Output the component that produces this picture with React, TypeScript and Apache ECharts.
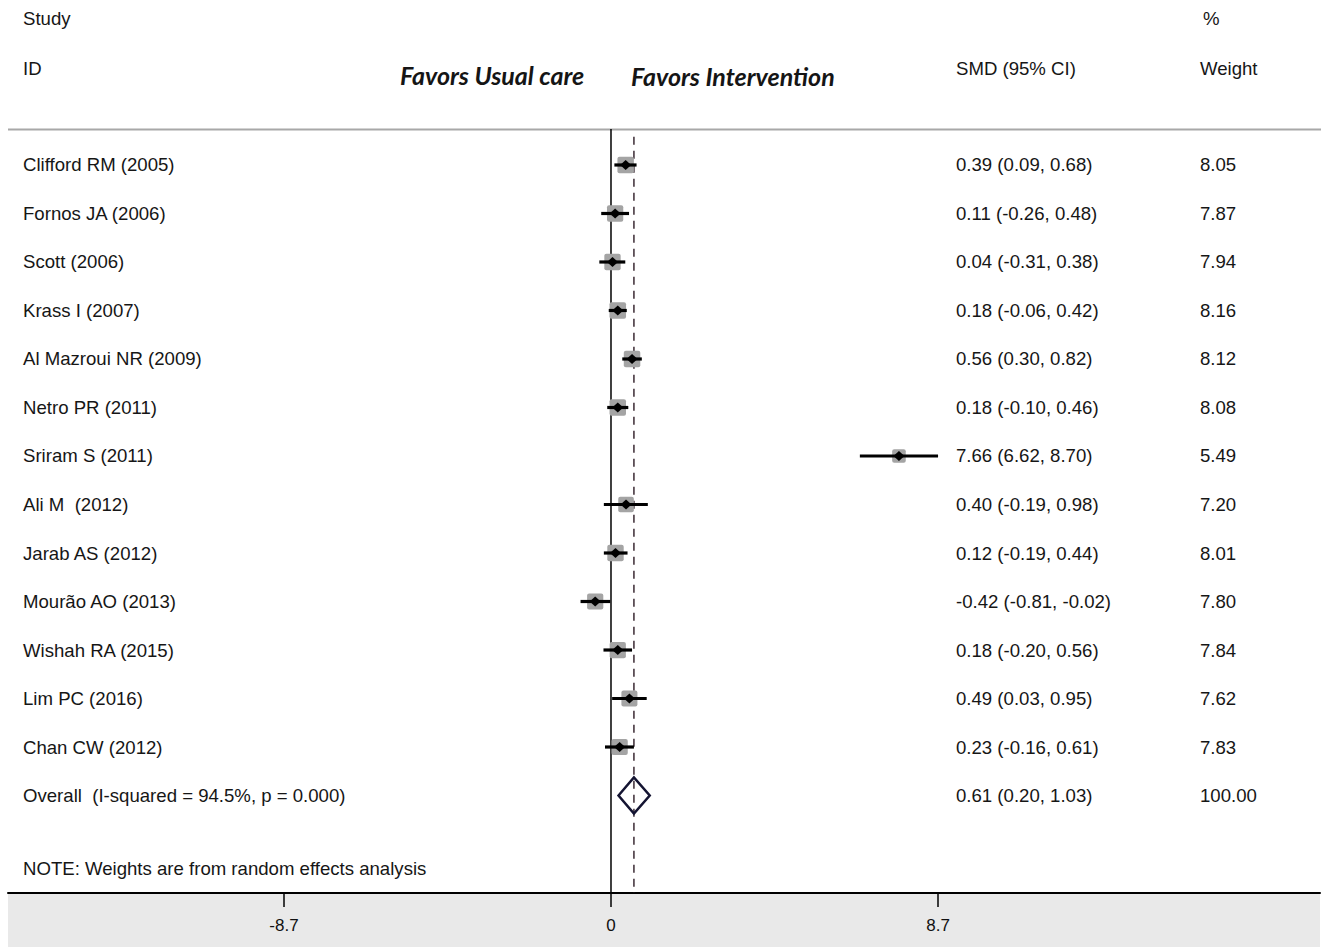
import React, { useEffect, useRef } from "react";
import * as echarts from "echarts";

const studies = [
  "Clifford RM (2005)",
  "Fornos JA (2006)",
  "Scott (2006)",
  "Krass I (2007)",
  "Al Mazroui NR (2009)",
  "Netro PR (2011)",
  "Sriram S (2011)",
  "Ali M  (2012)",
  "Jarab AS (2012)",
  "Mourão AO (2013)",
  "Wishah RA (2015)",
  "Lim PC (2016)",
  "Chan CW (2012)",
];
const estimates = [0.39, 0.11, 0.04, 0.18, 0.56, 0.18, 7.66, 0.4, 0.12, -0.42, 0.18, 0.49, 0.23];
const lowers = [0.09, -0.26, -0.31, -0.06, 0.3, -0.1, 6.62, -0.19, -0.19, -0.81, -0.2, 0.03, -0.16];
const uppers = [0.68, 0.48, 0.38, 0.42, 0.82, 0.46, 8.7, 0.98, 0.44, -0.02, 0.56, 0.95, 0.61];
const weights = [8.05, 7.87, 7.94, 8.16, 8.12, 8.08, 5.49, 7.2, 8.01, 7.8, 7.84, 7.62, 7.83];

const overallLabel = "Overall  (I-squared = 94.5%, p = 0.000)";
const overallEstimate = 0.61;
const overallLower = 0.2;
const overallUpper = 1.03;
const overallWeight = 100.0;

const tickValues = [-8.7, 0, 8.7];
const tickLabels = ["-8.7", "0", "8.7"];

const FONT = "'Liberation Sans', Arial, sans-serif";
const TEXT_COLOR = "#161616";
const TEXT_SIZE = 18.6;

function fmt(v: number) {
  return v.toFixed(2);
}

export default function App() {
  const ref = useRef<HTMLDivElement>(null);

  useEffect(() => {
    if (!ref.current) return;
    const chart = echarts.init(ref.current, null, { renderer: "svg" });

    const rows: any[] = studies.map((s, i) => [
      i,
      estimates[i],
      lowers[i],
      uppers[i],
      weights[i],
      s,
      `${fmt(estimates[i])} (${fmt(lowers[i])}, ${fmt(uppers[i])})`,
      fmt(weights[i]),
      0,
    ]);
    rows.push([
      studies.length,
      overallEstimate,
      overallLower,
      overallUpper,
      overallWeight,
      overallLabel,
      `${fmt(overallEstimate)} (${fmt(overallLower)}, ${fmt(overallUpper)})`,
      fmt(overallWeight),
      1,
    ]);

    const textStyle = (text: string, x: number, y: number) => ({
      type: "text",
      style: {
        text,
        x,
        y,
        fill: TEXT_COLOR,
        font: `${TEXT_SIZE}px ${FONT}`,
        verticalAlign: "middle",
        align: "left",
      },
    });

    const renderItem = (params: any, api: any) => {
      const i = api.value(0);
      const est = api.value(1);
      const lo = api.value(2);
      const hi = api.value(3);
      const w = api.value(4);
      const idx = params.dataIndex;
      const row = rows[idx];
      const isOverall = row[8] === 1;
      const [xe, y] = api.coord([est, i]);
      const xl = api.coord([lo, i])[0];
      const xh = api.coord([hi, i])[0];
      const children: any[] = [];
      if (!isOverall) {
        const side = 5.8 * Math.sqrt(w);
        children.push({
          type: "rect",
          shape: { x: xe - side / 2, y: y - side / 2, width: side, height: side, r: 2 },
          style: { fill: "#a4a4a4" },
        });
        children.push({
          type: "line",
          shape: { x1: xl, y1: y, x2: xh, y2: y },
          style: { stroke: "#000", lineWidth: 3.2 },
        });
        children.push({
          type: "polygon",
          shape: {
            points: [
              [xe - 5.5, y],
              [xe, y - 5],
              [xe + 5.5, y],
              [xe, y + 5],
            ],
          },
          style: { fill: "#000" },
        });
      } else {
        children.push({
          type: "polygon",
          shape: {
            points: [
              [xl, y],
              [xe, y - 18],
              [xh, y],
              [xe, y + 18],
            ],
          },
          style: { fill: "none", stroke: "#141432", lineWidth: 2.5 },
        });
      }
      children.push(textStyle(row[5], 23, y));
      children.push(textStyle(row[6], 956, y));
      children.push(textStyle(row[7], 1200, y));
      return { type: "group", children };
    };

    const header = (text: string, x: number, y: number) => ({
      type: "text",
      x,
      y,
      style: {
        text,
        fill: TEXT_COLOR,
        font: `${TEXT_SIZE}px ${FONT}`,
        verticalAlign: "middle",
      },
    });
    const favor = (text: string, x: number, y: number) => ({
      type: "text",
      x,
      y,
      style: {
        text,
        fill: "#151515",
        font: `italic bold 25px Lato, 'Open Sans', sans-serif`,
        verticalAlign: "middle",
      },
    });

    chart.setOption({
      animation: false,
      backgroundColor: "#ffffff",
      grid: { left: 8, right: 1, top: 129, bottom: 54, containLabel: false },
      xAxis: {
        type: "value",
        min: -16.04,
        max: 18.86,
        splitLine: { show: false },
        axisLine: { show: true, onZero: false, lineStyle: { color: "#000", width: 2 } },
        axisTick: {
          show: true,
          customValues: tickValues,
          length: 14,
          lineStyle: { color: "#000", width: 1.5 },
        },
        axisLabel: {
          show: true,
          customValues: tickValues,
          formatter: (v: number) => tickLabels[tickValues.indexOf(v)] ?? String(v),
          fontFamily: FONT,
          fontSize: 17,
          color: "#111",
          margin: 24,
        },
      },
      yAxis: {
        type: "value",
        min: -0.742,
        max: 15.01,
        inverse: true,
        show: false,
      },
      graphic: [
        {
          type: "rect",
          z: -10,
          shape: { x: 8, y: 893, width: 1312, height: 54 },
          style: { fill: "#e9e9e9" },
        },
        {
          type: "line",
          shape: { x1: 8, y1: 129.5, x2: 1321, y2: 129.5 },
          style: { stroke: "#a8a8a8", lineWidth: 2 },
        },
        header("Study", 23, 18),
        header("ID", 23, 68),
        header("SMD (95% CI)", 956, 68),
        header("%", 1203, 18),
        header("Weight", 1200, 68),
        favor("Favors Usual care", 400, 75),
        favor("Favors Intervention", 631, 76),
        header("NOTE: Weights are from random effects analysis", 23, 868),
      ],
      series: [
        {
          type: "line",
          data: [
            [0, -0.742],
            [0, 15.01],
          ],
          showSymbol: false,
          lineStyle: { color: "#000", width: 1.5 },
          silent: true,
          z: 1,
        },
        {
          type: "line",
          data: [
            [overallEstimate, -0.58],
            [overallEstimate, 15.01],
          ],
          showSymbol: false,
          lineStyle: { color: "#3a2a33", width: 1.5, type: [8, 6] },
          silent: true,
          z: 1,
        },
        {
          type: "custom",
          renderItem,
          data: rows,
          encode: { x: [1, 2, 3], y: 0 },
          z: 3,
        },
      ],
    });

    return () => chart.dispose();
  }, []);

  return (
    <div
      ref={ref}
      style={{ position: "absolute", left: 0, top: 0, width: 1321, height: 947 }}
    />
  );
}
